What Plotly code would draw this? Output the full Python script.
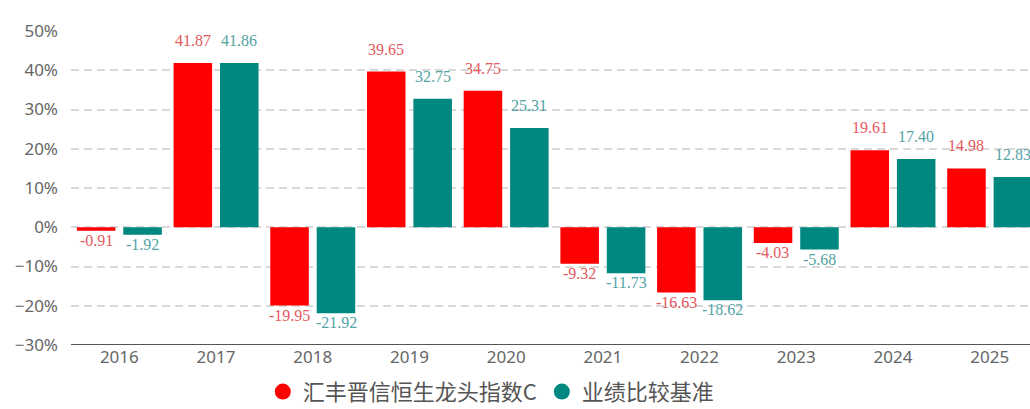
import plotly.graph_objects as go

years = ["2016", "2017", "2018", "2019", "2020", "2021", "2022", "2023", "2024", "2025"]
fund = [-0.91, 41.87, -19.95, 39.65, 34.75, -9.32, -16.63, -4.03, 19.61, 14.98]
bench = [-1.92, 41.86, -21.92, 32.75, 25.31, -11.73, -18.62, -5.68, 17.40, 12.83]
tick_vals = [-30, -20, -10, 0, 10, 20, 30, 40, 50]
tick_text = ["−30%", "−20%", "−10%", "0%", "10%", "20%", "30%", "40%", "50%"]
names = ["汇丰晋信恒生龙头指数C", "业绩比较基准"]

RED = "#ff0000"
TEAL = "#00877f"
LABEL_FONT = "Liberation Serif, DejaVu Serif, serif"

fig = go.Figure()
series = [(fund, names[0], RED, "#e5585c", -23.3), (bench, names[1], TEAL, "#52a3a4", 23.3)]
for vals, name, col, tcol, shift in series:
    fig.add_trace(go.Bar(
        name=name, x=years, y=vals, showlegend=False,
        marker=dict(color=col, line=dict(width=0)),
    ))
    for i, v in enumerate(vals):
        pos = v >= 0
        fig.add_annotation(
            x=i, y=v, xref="x", yref="y", text=f"{v:.2f}", showarrow=False,
            xshift=shift, yshift=12 if pos else 1,
            yanchor="bottom" if pos else "top", xanchor="center",
            font=dict(family=LABEL_FONT, size=16, color=tcol),
        )
# legend entries with round markers
for name, col in [(names[0], RED), (names[1], TEAL)]:
    fig.add_trace(go.Scatter(
        name=name, x=[None], y=[None], mode="markers",
        marker=dict(symbol="circle", size=18, color=col), showlegend=True,
    ))

fig.update_layout(
    width=1030, height=409,
    margin=dict(l=71, r=0, t=31, b=64, autoexpand=False),
    paper_bgcolor="white", plot_bgcolor="white",
    barmode="group", bargap=0.04, bargroupgap=0.17,
    font=dict(family="Noto Sans CJK SC, Noto Sans, sans-serif", color="#666666"),
    showlegend=True,
    legend=dict(orientation="h", x=0.200, xanchor="left", yref="container", y=0.042, yanchor="middle",
                font=dict(size=22, color="#555555"), itemsizing="trace",
                traceorder="normal"),
    xaxis=dict(type="category", range=[-0.5, 9.417], showgrid=False, showline=False, ticks="",
               automargin=False,
               tickfont=dict(size=17, color="#666666", family="Noto Sans, sans-serif")),
    yaxis=dict(range=[-30, 50], tickvals=tick_vals, ticktext=tick_text, automargin=False,
               showgrid=True, gridcolor="#d9d9d9", griddash="8px,5px", gridwidth=1.5,
               zeroline=False, showline=False, ticks="", ticklabelstandoff=12,
               tickfont=dict(size=17, color="#666666", family="Noto Sans, sans-serif")),
)
fig.add_shape(type="line", xref="paper", yref="y", x0=0, x1=1, y0=-30, y1=-30,
              line=dict(color="#555555", width=2))
fig.write_html("out.html", config={"displayModeBar": False},
               post_script="document.body.style.margin='0';document.body.style.overflow='hidden';")
